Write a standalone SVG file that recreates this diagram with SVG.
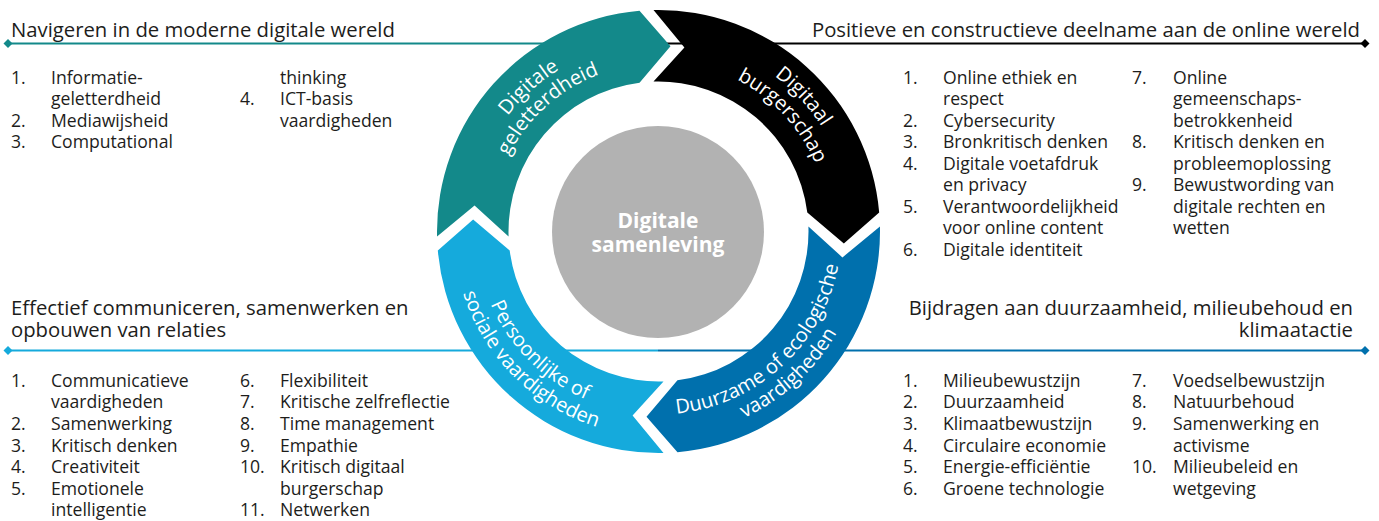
<svg xmlns="http://www.w3.org/2000/svg" width="1379" height="521" viewBox="0 0 1379 521">
<style>
text{font-family:"Open Sans","Noto Sans","DejaVu Sans",sans-serif;fill:#1d1d1b}
.head{font-size:20.3px}
.item{font-size:17.6px}
.ring{font-size:20px;fill:#ffffff}
.center{font-size:21px;font-weight:bold;fill:#ffffff}
.ln{stroke-width:2;fill:none}
</style>
<defs>
<marker id="d-teal" viewBox="-5 -5 10 10" markerWidth="10" markerHeight="10" markerUnits="userSpaceOnUse" refX="0" refY="0"><path d="M0,-4.5L4.5,0L0,4.5L-4.5,0Z" fill="#13898a"/></marker>
<marker id="d-black" viewBox="-5 -5 10 10" markerWidth="10" markerHeight="10" markerUnits="userSpaceOnUse" refX="0" refY="0"><path d="M0,-4.5L4.5,0L0,4.5L-4.5,0Z" fill="#000000"/></marker>
<marker id="d-light" viewBox="-5 -5 10 10" markerWidth="10" markerHeight="10" markerUnits="userSpaceOnUse" refX="0" refY="0"><path d="M0,-4.5L4.5,0L0,4.5L-4.5,0Z" fill="#15aadc"/></marker>
<marker id="d-blue" viewBox="-5 -5 10 10" markerWidth="10" markerHeight="10" markerUnits="userSpaceOnUse" refX="0" refY="0"><path d="M0,-4.5L4.5,0L0,4.5L-4.5,0Z" fill="#0070ad"/></marker>
<path id="p-teal1" d="M472.65 271.00 A190 190 0 0 1 717.21 50.80"/>
<path id="p-teal2" d="M494.17 266.43 A168 168 0 0 1 710.42 71.72"/>
<path id="p-black1" d="M614.86 42.47 A194 194 0 0 1 844.02 288.22"/>
<path id="p-black2" d="M620.03 64.88 A171 171 0 0 1 822.03 281.50"/>
<path id="p-light1" d="M481.73 184.14 A183 183 0 0 0 705.86 408.27"/>
<path id="p-light2" d="M460.48 178.44 A205 205 0 0 0 711.56 429.52"/>
<path id="p-blue1" d="M603.47 406.03 A183 183 0 0 0 837.16 191.89"/>
<path id="p-blue2" d="M596.85 427.01 A205 205 0 0 0 858.64 187.13"/>
</defs>

<g id="connectors">
<line class="ln" x1="8" y1="43.5" x2="658" y2="43.5" stroke="#13898a" marker-start="url(#d-teal)"/>
<line class="ln" x1="658" y1="43.5" x2="1365" y2="43.5" stroke="#000000" marker-end="url(#d-black)"/>
<line class="ln" x1="8" y1="350.5" x2="658" y2="350.5" stroke="#15aadc" marker-start="url(#d-light)"/>
<line class="ln" x1="658" y1="350.5" x2="1365" y2="350.5" stroke="#0070ad" marker-end="url(#d-blue)"/>
</g>

<g id="seg-teal">
<path d="M437.06 236.5 A221.5 221.5 0 0 1 639.52 10.82 L670.49 46.14 L639.55 82.70 A150 150 0 0 0 508.58 236.5 L474.57 205.59 Z" fill="#13898a"/>
<text class="ring"><textPath href="#p-teal1" startOffset="50%" text-anchor="middle">Digitale</textPath></text>
<text class="ring"><textPath href="#p-teal2" startOffset="50%" text-anchor="middle">geletterdheid</textPath></text>
</g>

<g id="seg-black">
<path d="M653.5 10.06 A221.5 221.5 0 0 1 879.18 212.52 L843.86 243.49 L807.30 212.55 A150 150 0 0 0 653.5 81.58 L684.41 47.57 Z" fill="#000000"/>
<text class="ring"><textPath href="#p-black1" startOffset="50%" text-anchor="middle">Digitaal</textPath></text>
<text class="ring"><textPath href="#p-black2" startOffset="50%" text-anchor="middle">burgerschap</textPath></text>
</g>

<g id="seg-blue">
<path d="M879.94 226.5 A221.5 221.5 0 0 1 677.48 452.18 L646.51 416.86 L677.45 380.30 A150 150 0 0 0 808.42 226.5 L842.43 257.41 Z" fill="#0070ad"/>
<text class="ring"><textPath href="#p-blue1" startOffset="50%" text-anchor="middle">Duurzame of ecologische</textPath></text>
<text class="ring"><textPath href="#p-blue2" startOffset="50%" text-anchor="middle">vaardigheden</textPath></text>
</g>

<g id="seg-light">
<path d="M663.5 452.94 A221.5 221.5 0 0 1 437.82 250.48 L473.14 219.51 L509.70 250.45 A150 150 0 0 0 663.5 381.42 L632.59 415.43 Z" fill="#15aadc"/>
<text class="ring"><textPath href="#p-light1" startOffset="50%" text-anchor="middle">Persoonlijke of</textPath></text>
<text class="ring"><textPath href="#p-light2" startOffset="50%" text-anchor="middle">sociale vaardigheden</textPath></text>
</g>

<g id="center">
<circle cx="658" cy="232" r="106" fill="#b2b2b2"/>
<text class="center" x="658" y="228" text-anchor="middle">Digitale</text>
<text class="center" x="658" y="252" text-anchor="middle">samenleving</text>
</g>

<g id="block-navigeren">
<text class="head" x="11" y="37">Navigeren in de moderne digitale wereld</text>
<text class="item" x="11" y="83.5">1.</text>
<text class="item" x="51" y="83.5">Informatie-</text>
<text class="item" x="51" y="105">geletterdheid</text>
<text class="item" x="11" y="126.5">2.</text>
<text class="item" x="51" y="126.5">Mediawijsheid</text>
<text class="item" x="11" y="148">3.</text>
<text class="item" x="51" y="148">Computational</text>
<text class="item" x="280" y="83.5">thinking</text>
<text class="item" x="240" y="105">4.</text>
<text class="item" x="280" y="105">ICT-basis</text>
<text class="item" x="280" y="126.5">vaardigheden</text>
</g>

<g id="block-deelname">
<text class="head" x="1360" y="37" text-anchor="end">Positieve en constructieve deelname aan de online wereld</text>
<text class="item" x="903" y="83.5">1.</text>
<text class="item" x="943" y="83.5">Online ethiek en</text>
<text class="item" x="943" y="105">respect</text>
<text class="item" x="903" y="126.5">2.</text>
<text class="item" x="943" y="126.5">Cybersecurity</text>
<text class="item" x="903" y="148">3.</text>
<text class="item" x="943" y="148">Bronkritisch denken</text>
<text class="item" x="903" y="169.5">4.</text>
<text class="item" x="943" y="169.5">Digitale voetafdruk</text>
<text class="item" x="943" y="191">en privacy</text>
<text class="item" x="903" y="212.5">5.</text>
<text class="item" x="943" y="212.5">Verantwoordelijkheid</text>
<text class="item" x="943" y="234">voor online content</text>
<text class="item" x="903" y="255.5">6.</text>
<text class="item" x="943" y="255.5">Digitale identiteit</text>
<text class="item" x="1132" y="83.5">7.</text>
<text class="item" x="1173" y="83.5">Online</text>
<text class="item" x="1173" y="105">gemeenschaps-</text>
<text class="item" x="1173" y="126.5">betrokkenheid</text>
<text class="item" x="1132" y="148">8.</text>
<text class="item" x="1173" y="148">Kritisch denken en</text>
<text class="item" x="1173" y="169.5">probleemoplossing</text>
<text class="item" x="1132" y="191">9.</text>
<text class="item" x="1173" y="191">Bewustwording van</text>
<text class="item" x="1173" y="212.5">digitale rechten en</text>
<text class="item" x="1173" y="234">wetten</text>
</g>

<g id="block-communiceren">
<text class="head" x="11" y="315">Effectief communiceren, samenwerken en</text>
<text class="head" x="11" y="337">opbouwen van relaties</text>
<text class="item" x="11" y="386.5">1.</text>
<text class="item" x="51" y="386.5">Communicatieve</text>
<text class="item" x="51" y="408">vaardigheden</text>
<text class="item" x="11" y="430">2.</text>
<text class="item" x="51" y="430">Samenwerking</text>
<text class="item" x="11" y="451.5">3.</text>
<text class="item" x="51" y="451.5">Kritisch denken</text>
<text class="item" x="11" y="473">4.</text>
<text class="item" x="51" y="473">Creativiteit</text>
<text class="item" x="11" y="494.5">5.</text>
<text class="item" x="51" y="494.5">Emotionele</text>
<text class="item" x="51" y="516">intelligentie</text>
<text class="item" x="240" y="386.5">6.</text>
<text class="item" x="280" y="386.5">Flexibiliteit</text>
<text class="item" x="240" y="408">7.</text>
<text class="item" x="280" y="408">Kritische zelfreflectie</text>
<text class="item" x="240" y="430">8.</text>
<text class="item" x="280" y="430">Time management</text>
<text class="item" x="240" y="451.5">9.</text>
<text class="item" x="280" y="451.5">Empathie</text>
<text class="item" x="240" y="473">10.</text>
<text class="item" x="280" y="473">Kritisch digitaal</text>
<text class="item" x="280" y="494.5">burgerschap</text>
<text class="item" x="240" y="516">11.</text>
<text class="item" x="280" y="516">Netwerken</text>
</g>

<g id="block-duurzaamheid">
<text class="head" x="1353" y="315" text-anchor="end">Bijdragen aan duurzaamheid, milieubehoud en</text>
<text class="head" x="1353" y="337" text-anchor="end">klimaatactie</text>
<text class="item" x="903" y="386.5">1.</text>
<text class="item" x="943" y="386.5">Milieubewustzijn</text>
<text class="item" x="903" y="408">2.</text>
<text class="item" x="943" y="408">Duurzaamheid</text>
<text class="item" x="903" y="430">3.</text>
<text class="item" x="943" y="430">Klimaatbewustzijn</text>
<text class="item" x="903" y="451.5">4.</text>
<text class="item" x="943" y="451.5">Circulaire economie</text>
<text class="item" x="903" y="473">5.</text>
<text class="item" x="943" y="473">Energie-efficiëntie</text>
<text class="item" x="903" y="494.5">6.</text>
<text class="item" x="943" y="494.5">Groene technologie</text>
<text class="item" x="1132" y="386.5">7.</text>
<text class="item" x="1173" y="386.5">Voedselbewustzijn</text>
<text class="item" x="1132" y="408">8.</text>
<text class="item" x="1173" y="408">Natuurbehoud</text>
<text class="item" x="1132" y="430">9.</text>
<text class="item" x="1173" y="430">Samenwerking en</text>
<text class="item" x="1173" y="451.5">activisme</text>
<text class="item" x="1132" y="473">10.</text>
<text class="item" x="1173" y="473">Milieubeleid en</text>
<text class="item" x="1173" y="494.5">wetgeving</text>
</g>
</svg>
